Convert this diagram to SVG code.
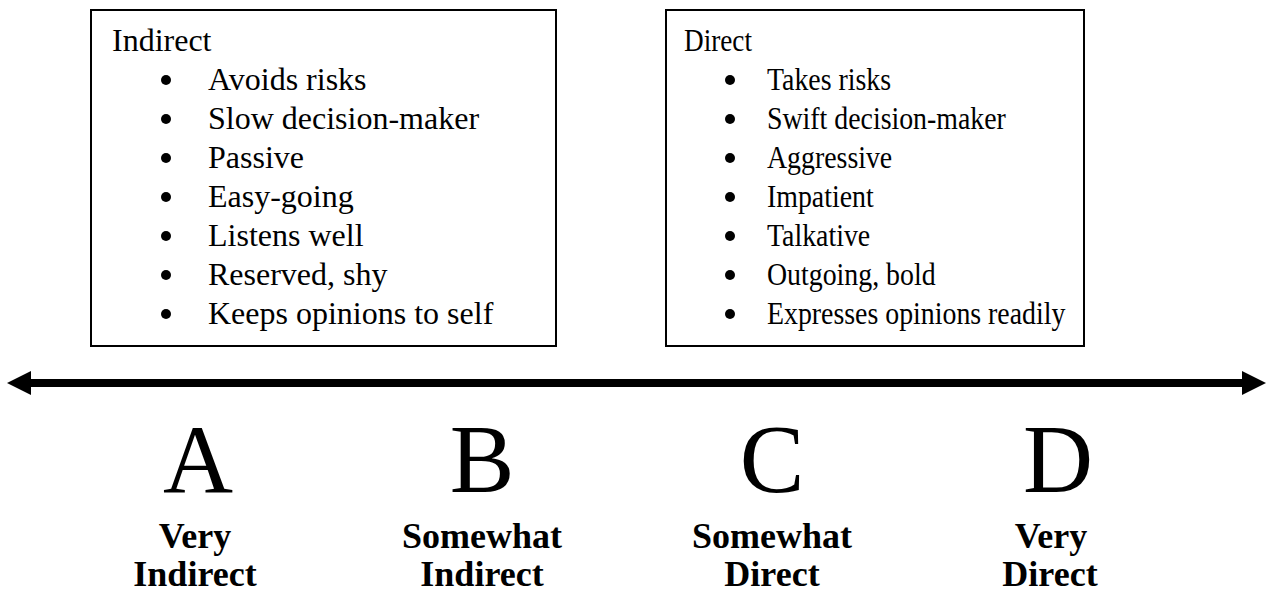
<svg xmlns="http://www.w3.org/2000/svg" width="1268" height="592" viewBox="0 0 1268 592">
<style>
.box{fill:#fff;stroke:#000;stroke-width:2}
.t{font-family:"Liberation Serif","Times New Roman",serif;font-size:32px;fill:#000}
.big{font-family:"Liberation Serif","Times New Roman",serif;font-size:97px;fill:#000;text-anchor:middle}
.lab{font-family:"Liberation Serif","Times New Roman",serif;font-size:36px;font-weight:bold;fill:#000;text-anchor:middle}
.b{fill:#000}
</style>
<rect width="1268" height="592" fill="#fff"/>
<g id="indirect">
<rect class="box" x="91" y="10" width="465" height="336"/>
<text class="t" x="112" y="51">Indirect</text>
<g class="b">
<circle cx="166" cy="80" r="5"/><circle cx="166" cy="119" r="5"/><circle cx="166" cy="158" r="5"/><circle cx="166" cy="197" r="5"/><circle cx="166" cy="236" r="5"/><circle cx="166" cy="275" r="5"/><circle cx="166" cy="314" r="5"/>
</g>
<text class="t" x="208" y="90">Avoids risks</text>
<text class="t" x="208" y="129">Slow decision-maker</text>
<text class="t" x="208" y="168">Passive</text>
<text class="t" x="208" y="207">Easy-going</text>
<text class="t" x="208" y="246">Listens well</text>
<text class="t" x="208" y="285">Reserved, shy</text>
<text class="t" x="208" y="324">Keeps opinions to self</text>
</g>
<g id="direct">
<rect class="box" x="666" y="10" width="418" height="336"/>
<text class="t" x="0" y="51" transform="matrix(0.85 0 0 1 684 0)">Direct</text>
<g class="b">
<circle cx="730" cy="80" r="5"/><circle cx="730" cy="119" r="5"/><circle cx="730" cy="158" r="5"/><circle cx="730" cy="197" r="5"/><circle cx="730" cy="236" r="5"/><circle cx="730" cy="275" r="5"/><circle cx="730" cy="314" r="5"/>
</g>
<g transform="matrix(0.87 0 0 1 767 0)">
<text class="t" x="0" y="90">Takes risks</text>
<text class="t" x="0" y="129">Swift decision-maker</text>
<text class="t" x="0" y="168">Aggressive</text>
<text class="t" x="0" y="207">Impatient</text>
<text class="t" x="0" y="246">Talkative</text>
<text class="t" x="0" y="285">Outgoing, bold</text>
<text class="t" x="0" y="324">Expresses opinions readily</text>
</g>
</g>
<g id="connectors">
<line x1="28" y1="383" x2="1245" y2="383" stroke="#000" stroke-width="8"/>
<polygon points="7,383 31,371 31,395" fill="#000"/>
<polygon points="1266,383 1242,371 1242,395" fill="#000"/>
</g>
<g id="A"><text class="big" x="198" y="492">A</text><text class="lab" x="195" y="548">Very</text><text class="lab" x="195" y="586">Indirect</text></g>
<g id="B"><text class="big" x="482" y="492">B</text><text class="lab" x="482" y="548">Somewhat</text><text class="lab" x="482" y="586">Indirect</text></g>
<g id="C"><text class="big" x="772" y="492">C</text><text class="lab" x="772" y="548">Somewhat</text><text class="lab" x="772" y="586">Direct</text></g>
<g id="D"><text class="big" x="1058" y="492">D</text><text class="lab" x="1051" y="548">Very</text><text class="lab" x="1050" y="586">Direct</text></g>
</svg>
